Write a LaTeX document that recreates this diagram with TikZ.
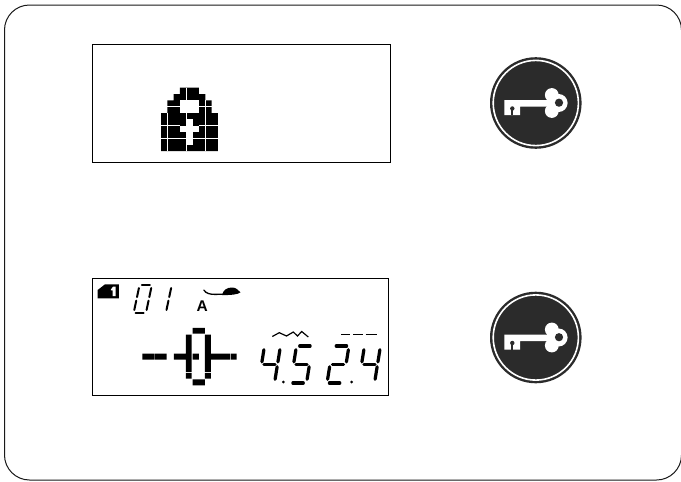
\documentclass[tikz,border=0pt]{standalone}
\usepackage{fontspec}
\setmainfont{Liberation Sans}
\definecolor{keydark}{HTML}{2B2B2B}
\tikzset{
  panel/.style={draw=black,line width=1pt,fill=white},
  lcdbig/.style={line width=3.2pt,line cap=round},
  lcdsmall/.style={line width=2pt,line cap=round},
  keypic/.pic={
    \fill[keydark] (0,0) circle (45.8);
    \draw[white,line width=1.6pt] (0,0) circle (42.6);
    \fill[white] (-31.5,-3) -- (14,-3) -- (14,3.7) -- (-15.8,3.7) -- (-15.8,12) -- (-31.5,12) -- cycle;
    \fill[white] (16,-8) circle (6.9) (16,8) circle (6.9) (22.8,0) circle (9);
    \fill[white] (11,-6) rectangle (21,6);
    \fill[keydark] (23.2,-0.3) circle (4.1);
    \fill[keydark] (-23.5,5.5) circle (2.2);
    \fill[keydark] (-24.6,5.5) rectangle (-22.4,12);
  }
}
\newcommand{\segA}{\draw[seg] (0.2,2) -- (0.85,2);}
\newcommand{\segB}{\draw[seg] (1,1.8) -- (1,1.14);}
\newcommand{\segC}{\draw[seg] (1,0.88) -- (1,0.2);}
\newcommand{\segD}{\draw[seg] (0.15,0) -- (0.8,0);}
\newcommand{\segE}{\draw[seg] (0,0.88) -- (0,0.2);}
\newcommand{\segF}{\draw[seg] (0,1.8) -- (0,1.14);}
\newcommand{\segG}{\draw[seg] (0.15,1) -- (0.85,1);}
% origin x, origin y, width, slant, half height, style, segments
\newcommand{\lcddigit}[7]{\begin{scope}[shift={(#1,#2)},x={(#3pt,0pt)},y={(#4pt,#5pt)},seg/.style={#6}]#7\end{scope}}
\begin{document}
\begin{tikzpicture}[x=1pt,y=-1pt]
\useasboundingbox (0,0) rectangle (681,482);
\fill[white] (0,0) rectangle (681,482);
\draw[line width=1pt,rounded corners=25pt,draw=black!90] (4.5,5) rectangle (681.5,480);
\draw[panel] (92,44.5) rectangle (390,162);
\draw[panel] (92,278.5) rectangle (388.3,395.8);
% lock
\begin{scope}[shift={(161,87.7)},x=6.33pt,y=-6.33pt]
  \fill[black] (3,0) -- (6,0) -- (6,1) -- (7,1) -- (7,2) -- (8,2) -- (8,4) -- (9,4) -- (9,10) -- (0,10) -- (0,4) -- (1,4) -- (1,2) -- (2,2) -- (2,1) -- (3,1) -- cycle;
  \fill[white] (3,2) rectangle (6,4);
  \fill[white] (4,5) rectangle (5,9);
  \fill[white] (3,6) rectangle (6,7);
  \draw[white,line width=0.9pt] (1,4) -- (1,10) (4,0) -- (4,2) (4,4) -- (4,5) (4,9) -- (4,10) (7,2) -- (7,10);
  \draw[white,line width=0.9pt] (1,3) -- (3,3) (6,3) -- (8,3) (0,6) -- (3,6) (6,6) -- (9,6) (0,8) -- (4,8) (5,8) -- (9,8);
\end{scope}
% keys
\pic at (535.8,103) {keypic};
\pic at (535.8,337.5) {keypic};
% memory badge
\begin{scope}[shift={(95,280)},x=0.3333pt,y=-0.3333pt]
  \fill[black] (8,30) -- (30,13) -- (72,13) -- (72,55) -- (8,55) -- cycle;
  \fill[white] (48,28) -- (54,20) -- (62,20) -- (62,48) -- (53,48) -- (53,31) -- (48,31) -- cycle;
\end{scope}
% pattern number
\lcddigit{133.7}{312.7}{12.3}{2.9}{13.7}{lcdsmall}{\segA\segB\segC\segD\segE\segF}
\lcddigit{153.6}{312.7}{12.3}{2.9}{13.7}{lcdsmall}{\segB\segC}
% A and foot
\node[font=\bfseries\fontsize{15.5}{15.5}\selectfont,inner sep=0pt] (presser) at (202.2,305.8) {A};
\draw[black,line width=1.3pt,line cap=round] (203.8,290) .. controls (206,293.5) and (210,294.4) .. (215,294.4) -- (224,294.2);
\fill[black] (222,295.2) .. controls (223,290) and (227,287.5) .. (232,287.5) .. controls (236,287.5) and (238,290) .. (240.5,292.3) .. controls (238,294.5) and (232,295) .. (222,295.2) -- cycle;
% centre position blocks
\begin{scope}[shift={(85,272)},x=0.3333pt,y=-0.3333pt]
  \fill[black] (172,245) rectangle (208,263) (210,245) rectangle (245,263)
    (267,245) rectangle (320,263) (323,245) rectangle (342,263)
    (360,245) rectangle (435,263) (437,245) rectangle (455,263)
    (323,168) rectangle (360,185) (323,322) rectangle (360,340)
    (303,188) rectangle (320,245) (360,188) rectangle (378,245)
    (303,263) rectangle (320,300) (360,263) rectangle (378,300)
    (303,303) rectangle (320,320) (360,303) rectangle (378,320);
\end{scope}
% width and length
\draw[black,line width=1.2pt,line join=miter] (272.3,336.5) -- (279.3,332.7) -- (286.5,336) -- (293.3,332) -- (297.5,336) -- (301.7,331.5) -- (308.3,337);
\draw[black,line width=1.3pt] (341,334.3) -- (350,334.3) (353.3,334.3) -- (362.7,334.3) (365.7,334.3) -- (376.7,334.3);
\lcddigit{258.5}{383}{16}{3}{18.5}{lcdbig}{\segB\segC\segF\segG}
\lcddigit{290.5}{383}{16}{3}{18.5}{lcdbig}{\segA\segC\segD\segF\segG}
\lcddigit{327}{383}{16}{3}{18.5}{lcdbig}{\segA\segB\segD\segE\segG}
\lcddigit{358.5}{383}{16}{3}{18.5}{lcdbig}{\segB\segC\segF\segG}
\fill[black] (283.3,382) circle (1.5) (351.7,382) circle (1.5);
\end{tikzpicture}
\end{document}
